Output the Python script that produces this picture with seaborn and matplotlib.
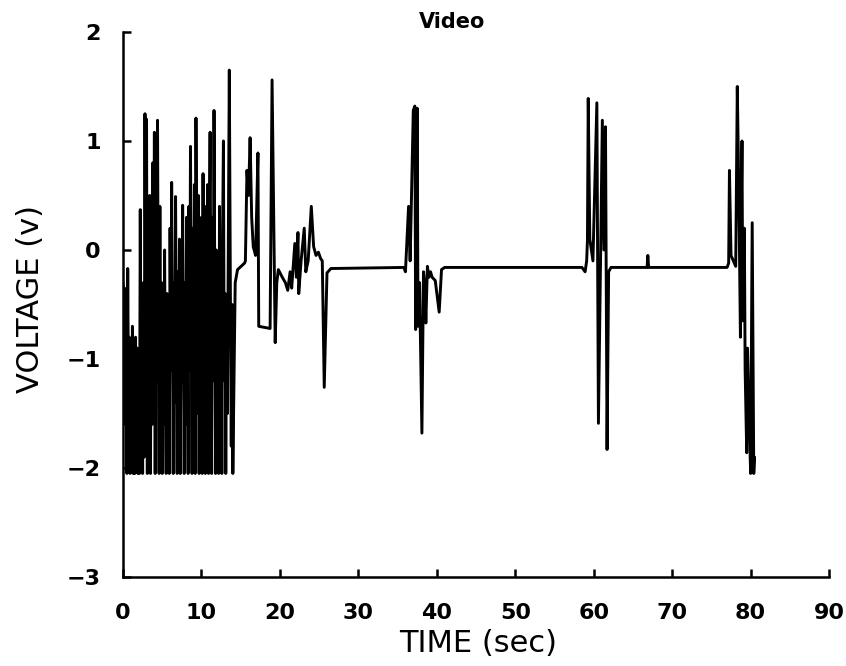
import matplotlib
matplotlib.use("Agg")
import matplotlib.pyplot as plt
import seaborn as sns
import pandas as pd

# ---- data ----
burst_t = [0.00, 0.10, 0.20, 0.30, 0.40, 0.50, 0.60, 0.70, 0.80, 0.90, 1.00, 1.10, 1.20, 1.30, 1.40,
           1.50, 1.60, 1.70, 1.80, 1.90, 2.00, 2.10, 2.20, 2.30, 2.40, 2.50, 2.60, 2.70, 2.80, 2.90,
           3.00, 3.10, 3.20, 3.30, 3.40, 3.50, 3.60, 3.70, 3.80, 3.90, 4.00, 4.10, 4.20, 4.30, 4.40,
           4.50, 4.60, 4.70, 4.80, 4.90, 5.00, 5.10, 5.20, 5.30, 5.40, 5.50, 5.60, 5.70, 5.80, 5.90,
           6.00, 6.10, 6.20, 6.30, 6.40, 6.50, 6.60, 6.70, 6.80, 6.90, 7.00, 7.10, 7.20, 7.30, 7.40,
           7.50, 7.60, 7.70, 7.80, 7.90, 8.00, 8.10, 8.20, 8.30, 8.40, 8.50, 8.60, 8.70, 8.80, 8.90,
           9.00, 9.10, 9.20, 9.30, 9.40, 9.50, 9.60, 9.70, 9.80, 9.90, 10.00, 10.10, 10.20, 10.30,
           10.40, 10.50, 10.60, 10.70, 10.80, 10.90, 11.00, 11.10, 11.20, 11.30, 11.40, 11.50, 11.60,
           11.70, 11.80, 11.90, 12.00, 12.10, 12.20, 12.30, 12.40, 12.50, 12.60, 12.70, 12.80, 12.90,
           13.00, 13.10, 13.20, 13.30, 13.40, 13.55, 13.70, 13.80, 13.90, 14.00, 14.30, 14.60, 15.50]
burst_v = [-0.30, -0.90, -0.35, -1.60, -0.60, -2.05, -0.17, -1.40, -0.80, -2.05, -0.90, -1.80, -0.70, -2.05, -1.00,
           -2.05, -0.80, -1.70, -0.90, -2.05, -1.00, -2.05, 0.37, -1.60, -0.50, -2.05, -0.30, -1.90, 1.25, -1.00,
           1.20, -2.05, 0.20, -1.50, 0.50, -2.05, -0.20, -1.60, 0.80, -0.90, 1.08, -2.05, 0.10, -1.20, 1.19,
           -0.70, -2.05, 0.40, -1.50, -0.30, -2.05, -0.50, -1.60, 0.00, -1.30, -2.05, -0.40, -1.80, -0.60, -2.05,
           0.20, -1.10, 0.62, -0.80, -2.05, -0.30, -1.40, 0.49, -1.00, -2.05, -0.20, -1.30, 0.10, -2.05, -0.50,
           -1.20, 0.41, -0.90, -2.05, -0.30, -1.60, 0.30, -0.70, -2.05, 0.40, -1.10, 0.95, -0.60, -2.05, 0.20,
           -1.30, 0.60, -2.05, 1.21, -0.40, -1.50, 0.50, -2.05, -0.20, -1.20, 0.30, -2.05, 0.70, -0.90,
           -0.20, -2.05, 0.40, -1.00, 0.60, -2.05, 0.20, 1.08, -0.60, -2.05, 0.30, -1.20, 1.28,
           -0.30, -2.05, 0.00, -1.40, -0.20, -2.05, 0.40, -1.00, -0.10, -2.05, 0.20, 1.00, -1.20,
           -0.40, -2.05, -0.60, -1.50, -0.30, 1.65, -0.60, -1.80, -0.50, -2.05, -0.30, -0.18, -0.12]

mid_t = [15.6, 15.8, 16.0, 16.2, 16.4, 16.6, 16.9, 17.2, 17.3, 18.75, 19.0, 19.4, 19.6, 19.8, 20.3, 20.7,
         21.0, 21.3, 21.5, 21.9, 22.1, 22.3, 22.4, 22.7, 23.1, 23.3, 23.6, 24.0, 24.3, 24.6, 24.9, 25.2,
         25.4, 25.65, 26.0, 26.5]
mid_v = [-0.1, 0.73, 0.5, 1.03, 0.3, 0.03, -0.05, 0.89, -0.7, -0.72, 1.56, -0.85, -0.3, -0.18, -0.25, -0.3,
         -0.37, -0.2, -0.35, 0.06, -0.25, 0.16, -0.4, -0.1, 0.2, -0.2, -0.1, 0.4, 0.03, -0.05, -0.02, -0.08,
         -0.1, -1.26, -0.21, -0.17]

ev1_t = [35.8, 36.0, 36.4, 36.6, 37.0, 37.2, 37.3, 37.5, 37.6, 37.8, 38.1, 38.3, 38.5, 38.6, 38.8, 39.0,
         39.2, 39.4, 39.8, 40.3, 40.6, 41.0]
ev1_v = [-0.16, -0.2, 0.4, -0.1, 1.28, 1.32, -0.73, 1.3, -0.7, -0.3, -1.68, -0.2, -0.35, -0.67, -0.15, -0.25,
         -0.2, -0.25, -0.28, -0.57, -0.18, -0.16]

ev2_t = [58.5, 58.9, 59.1, 59.2, 59.3, 59.5, 59.9, 60.4, 60.6, 61.1, 61.3, 61.5, 61.7, 61.9, 62.2, 66.8,
         66.9, 67.0, 77.0]
ev2_v = [-0.16, -0.2, -0.1, 0.09, 1.39, 0.1, -0.1, 1.35, -1.59, 1.19, 0.0, 1.13, -1.83, -0.2, -0.16, -0.16,
         -0.05, -0.16, -0.16]

ev3_t = [77.2, 77.3, 77.5, 78.1, 78.3, 78.5, 78.7, 78.8, 78.9, 79.0, 79.2, 79.3, 79.5, 79.6, 79.8, 80.0,
         80.2, 80.4, 80.5]
ev3_v = [-0.12, 0.73, -0.05, -0.15, 1.5, 0.5, -0.8, 0.3, 1.0, -0.65, 0.2, -1.1, -1.86, -0.9, -1.5, -2.05,
         0.25, -2.05, -1.9]

x_ticks = [0, 10, 20, 30, 40, 50, 60, 70, 80, 90]
y_ticks = [-3, -2, -1, 0, 1, 2]
y_tick_labels = ["\u22123", "\u22122", "\u22121", "0", "1", "2"]

time = burst_t + mid_t + ev1_t + ev2_t + ev3_t
volt = burst_v + mid_v + ev1_v + ev2_v + ev3_v
df = pd.DataFrame({"time": time, "voltage": volt})

# ---- plot ----
sns.set_style("ticks")
plt.rcParams["font.family"] = ["DejaVu Sans"]
plt.rcParams["text.color"] = "black"
plt.rcParams["axes.labelcolor"] = "black"

fig = plt.figure(figsize=(8.46, 6.66), dpi=100)
ax = fig.add_axes([0.1454, 0.1336, 0.8346, 0.8184])

sns.lineplot(data=df, x="time", y="voltage", sort=False, estimator=None,
             color="black", linewidth=2.1, ax=ax)

ax.set_xlim(0, 90)
ax.set_ylim(-3, 2)
ax.set_xticks(x_ticks)
ax.set_xticklabels([str(v) for v in x_ticks])
ax.set_yticks(y_ticks)
ax.set_yticklabels(y_tick_labels)

for s in ["top", "right"]:
    ax.spines[s].set_visible(False)
for s in ["left", "bottom"]:
    ax.spines[s].set_linewidth(1.8)
    ax.spines[s].set_color("black")

ax.tick_params(axis="both", direction="in", length=6, width=1.8, colors="black",
               labelsize=16)
ax.tick_params(axis="x", pad=19)
ax.tick_params(axis="y", pad=16)
for lab in ax.get_xticklabels() + ax.get_yticklabels():
    lab.set_fontweight("bold")

ax.set_xlabel("TIME (sec)", fontsize=22, color="black")
ax.set_ylabel("VOLTAGE (v)", fontsize=22, color="black")
ax.xaxis.set_label_coords(0.503, -0.095)
ax.yaxis.set_label_coords(-0.11, 0.51)

ax.text(42, 2.0, "Video", ha="center", va="bottom", fontsize=15, fontweight="bold",
        color="black")

fig.savefig("out.png", dpi=100, facecolor="white")
